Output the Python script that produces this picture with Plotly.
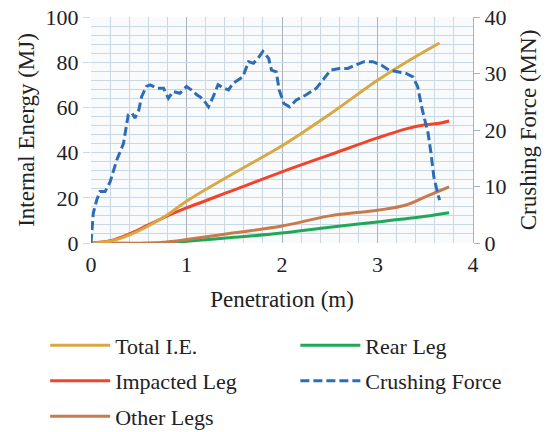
import plotly.graph_objects as go

# ---- data ----
pen_total = [0, 0.2, 0.4, 0.6, 0.8, 1.0, 1.5, 2.0, 2.5, 3.0, 3.3, 3.65]
total_ie = [0, 0.8, 3.5, 7.5, 12.5, 18.5, 31, 43, 57, 72, 80, 88.5]

pen_legs = [0, 0.2, 0.4, 0.6, 0.8, 1.0, 1.5, 2.0, 2.5, 3.0, 3.3, 3.5, 3.65, 3.75]
impacted_leg = [0, 1, 4, 8, 12, 15.5, 23.5, 31.5, 39, 46.5, 50.5, 52.3, 53, 54]

pen_other = [0, 0.6, 0.8, 1.0, 1.5, 2.0, 2.5, 3.0, 3.3, 3.5, 3.75]
other_legs = [0, 0, 0.5, 1.5, 4.5, 7.5, 12, 14.5, 16.8, 20.4, 24.8]

pen_rear = [0, 0.8, 1.0, 1.5, 2.0, 2.5, 3.0, 3.5, 3.75]
rear_leg = [0, 0, 0.8, 2.5, 4.4, 7, 9.3, 11.8, 13.4]

pen_force = [0, 0.024, 0.06, 0.094, 0.147, 0.2, 0.27, 0.34, 0.39, 0.43, 0.46, 0.5,
             0.53, 0.58, 0.62, 0.69, 0.76, 0.81, 0.86, 0.93, 1.0, 1.05, 1.11, 1.14,
             1.18, 1.23, 1.28, 1.33, 1.39, 1.44, 1.49, 1.54, 1.59, 1.65, 1.70, 1.75,
             1.80, 1.86, 1.89, 1.94, 1.97, 2.02, 2.08, 2.15, 2.25, 2.36, 2.43, 2.51,
             2.60, 2.69, 2.77, 2.86, 2.95, 3.04, 3.12, 3.21, 3.30, 3.37, 3.42, 3.47,
             3.53, 3.56, 3.59, 3.63, 3.65]
crushing_force = [0, 5.3, 7.6, 9.1, 9.1, 10.8, 14.7, 17.6, 22.7, 23, 22.1, 23.5,
                  25.9, 27.7, 28, 27.4, 27.4, 25.6, 26.8, 26.5, 27.7, 27.1, 26.2, 25.9,
                  25.3, 24.1, 25.9, 28, 27.4, 27.1, 28.3, 28.8, 29.4, 32.1, 31.8, 32.7,
                  33.9, 32.7, 30.6, 30.3, 27.1, 24.7, 24.1, 25.3, 26.2, 27.4, 28.8, 30.6,
                  30.9, 30.9, 31.5, 32.1, 32.1, 31.5, 30.6, 30.3, 30.0, 29.4, 27.7, 23.5,
                  19.4, 15.9, 11.7, 8.8, 7.6]

x_ticks = [0, 1, 2, 3, 4]
y_ticks = [0, 20, 40, 60, 80, 100]
y2_ticks = [0, 10, 20, 30, 40]

FONT = "Liberation Serif, Times New Roman, serif"
C_GOLD = "#d9a843"
C_RED = "#f2442b"
C_BROWN = "#c77a4c"
C_GREEN = "#20a85a"
C_BLUE = "#2e6db6"
GRID = "#c9d8e4"
MAJOR = "#a9b2ba"
TXT = "#222222"

fig = go.Figure()
fig.add_trace(go.Scatter(x=pen_rear, y=rear_leg, mode="lines", name="Rear Leg",
                         line=dict(color=C_GREEN, width=3, shape="spline"),
                         legend="legend2", legendgroup="g4", legendrank=1))
fig.add_trace(go.Scatter(x=pen_other, y=other_legs, mode="lines", name="Other Legs",
                         line=dict(color=C_BROWN, width=3, shape="spline"),
                         legend="legend", legendgroup="g3", legendrank=3))
fig.add_trace(go.Scatter(x=pen_legs, y=impacted_leg, mode="lines", name="Impacted Leg",
                         line=dict(color=C_RED, width=3, shape="spline"),
                         legend="legend", legendgroup="g2", legendrank=2))
fig.add_trace(go.Scatter(x=pen_total, y=total_ie, mode="lines", name="Total I.E.",
                         line=dict(color=C_GOLD, width=3, shape="spline"),
                         legend="legend", legendgroup="g1", legendrank=1))
fig.add_trace(go.Scatter(x=pen_force, y=crushing_force, mode="lines", name="Crushing Force",
                         line=dict(color=C_BLUE, width=3, dash="9px,4px"),
                         yaxis="y2", legend="legend2", legendgroup="g5", legendrank=2))

tickfont = dict(family=FONT, size=22, color=TXT)
titlefont = dict(family=FONT, size=23, color=TXT)
xtitlefont = dict(family=FONT, size=23, color=TXT)
legfont = dict(family=FONT, size=22, color=TXT)

fig.update_layout(
    width=552, height=432,
    margin=dict(l=91, r=79, t=17, b=189, autoexpand=False),
    paper_bgcolor="white",
    plot_bgcolor="#f9fafc",
    font=dict(family=FONT, size=22, color=TXT),
    xaxis=dict(range=[0, 4], tickvals=x_ticks, ticks="", tickfont=tickfont,
               ticklabelstandoff=6,
               showgrid=True, gridcolor=MAJOR, gridwidth=1, zeroline=False,
               minor=dict(dtick=0.2, showgrid=True, gridcolor=GRID, gridwidth=1),
               title=dict(text="Penetration (m)", font=xtitlefont, standoff=14),
               showline=False),
    yaxis=dict(range=[0, 100], tickvals=y_ticks, ticks="outside", ticklen=7,
               tickcolor=GRID, tickfont=tickfont,
               showgrid=True, gridcolor=GRID, gridwidth=1, zeroline=False,
               minor=dict(dtick=4, showgrid=True, gridcolor=GRID, gridwidth=1),
               title=dict(text="Internal Energy (MJ)", font=titlefont, standoff=4),
               showline=False),
    yaxis2=dict(range=[0, 40], tickvals=y2_ticks, overlaying="y", side="right",
                ticks="outside", ticklen=6, tickcolor="#9fb6c8", tickfont=tickfont,
                showline=True, linecolor="#9fb6c8", linewidth=1,
                showgrid=False, zeroline=False,
                title=dict(text="Crushing Force (MN)", font=titlefont, standoff=14)),
    legend=dict(x=-0.12, y=-0.36, xanchor="left", yanchor="top",
                orientation="v", tracegroupgap=4, itemwidth=60,
                bgcolor="rgba(0,0,0,0)", font=legfont),
    legend2=dict(x=0.535, y=-0.36, xanchor="left", yanchor="top",
                 orientation="v", tracegroupgap=4, itemwidth=60,
                 bgcolor="rgba(0,0,0,0)", font=legfont),
)

fig.write_html("out.html")
